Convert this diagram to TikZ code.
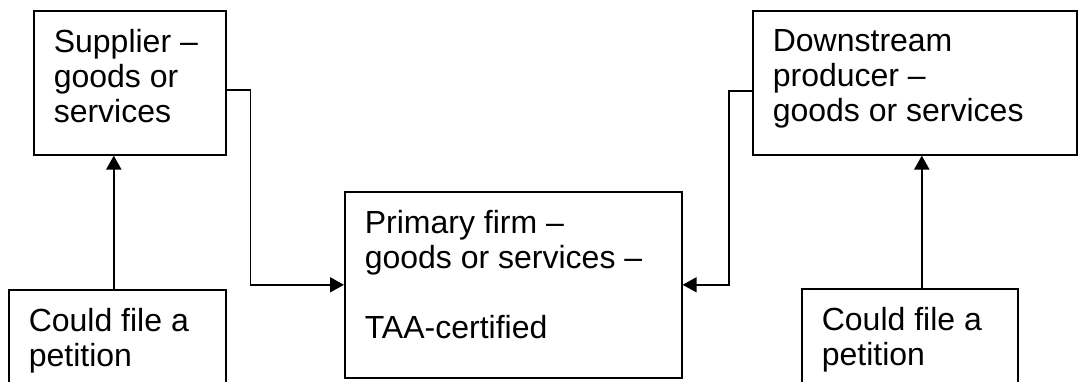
\documentclass[tikz,border=0pt]{standalone}
\usepackage{fontspec}
\setmainfont{Liberation Sans}
\usetikzlibrary{arrows.meta}

\begin{document}
\begin{tikzpicture}[x=1pt,y=-1pt]
\tikzstyle{box}=[draw,line width=1.6pt,anchor=north west,inner xsep=20pt,inner ysep=19pt,font=\fontsize{32}{35}\selectfont]
\tikzstyle{link}=[line width=1.4pt,-{Triangle[length=14pt,width=15pt]}]
\tikzstyle{up}=[line width=2pt,-{Triangle[length=14pt,width=15pt]}]
\useasboundingbox (0,0) rectangle (1078,381);
\path (33,10) node[box](supplier){\parbox[t][106pt][t]{152pt}{Supplier –\\goods or\\services}}
 (752,10) node[box](downstream){\parbox[t][106pt][t]{284pt}{Downstream\\producer –\\goods or services}}
 (344,191) node[box](primary){\parbox[t][148pt][t]{297pt}{Primary firm –\\goods or services –\\[35pt]TAA-certified}}
 (8,289) node[box](petL){\parbox[t][100pt][t]{177pt}{Could file a\\petition}}
 (801,288) node[box](petR){\parbox[t][100pt][t]{176pt}{Could file a\\petition}};
\draw[link] ([yshift=-7pt]supplier.east) -- ++(24,0) |- (primary.west);
\draw[link] ([yshift=-8pt]downstream.west) -- ++(-23,0) |- (primary.east);
\draw[up] ([xshift=-3.5pt]petL.north) -- ([xshift=-3.5pt]petL.north |- supplier.south);
\draw[up] ([xshift=12pt]petR.north) -- ([xshift=12pt]petR.north |- downstream.south);
\end{tikzpicture}
\end{document}
